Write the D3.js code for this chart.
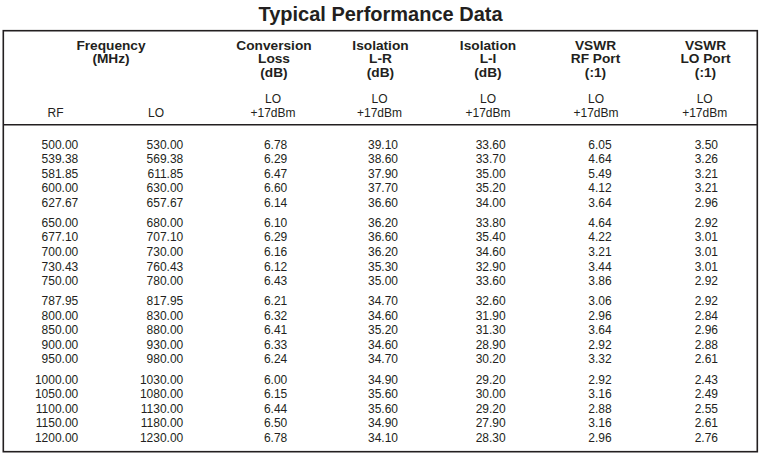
<!DOCTYPE html>
<html>
<head>
<meta charset="utf-8">
<script src="https://cdn.jsdelivr.net/npm/d3@7"></script>
<style>
  html, body { margin: 0; padding: 0; background: #fff; }
  svg { display: block; }
  text { font-family: "Liberation Sans", Arial, Helvetica, sans-serif; fill: #231f20; }
</style>
</head>
<body>
<svg id="chart" width="762" height="459"></svg>
<script>
// ---- data ----
const title = "Typical Performance Data";
const rfFreq   = [500.00, 539.38, 581.85, 600.00, 627.67, 650.00, 677.10, 700.00, 730.43, 750.00,
                  787.95, 800.00, 850.00, 900.00, 950.00, 1000.00, 1050.00, 1100.00, 1150.00, 1200.00];
const loFreq   = [530.00, 569.38, 611.85, 630.00, 657.67, 680.00, 707.10, 730.00, 760.43, 780.00,
                  817.95, 830.00, 880.00, 930.00, 980.00, 1030.00, 1080.00, 1130.00, 1180.00, 1230.00];
const convLoss = [6.78, 6.29, 6.47, 6.60, 6.14, 6.10, 6.29, 6.16, 6.12, 6.43,
                  6.21, 6.32, 6.41, 6.33, 6.24, 6.00, 6.15, 6.44, 6.50, 6.78];
const isoLR    = [39.10, 38.60, 37.90, 37.70, 36.60, 36.20, 36.60, 36.20, 35.30, 35.00,
                  34.70, 34.60, 35.20, 34.60, 34.70, 34.90, 35.60, 35.60, 34.90, 34.10];
const isoLI    = [33.60, 33.70, 35.00, 35.20, 34.00, 33.80, 35.40, 34.60, 32.90, 33.60,
                  32.60, 31.90, 31.30, 28.90, 30.20, 29.20, 30.00, 29.20, 27.90, 28.30];
const vswrRF   = [6.05, 4.64, 5.49, 4.12, 3.64, 4.64, 4.22, 3.21, 3.44, 3.86,
                  3.06, 2.96, 3.64, 2.92, 3.32, 2.92, 3.16, 2.88, 3.16, 2.96];
const vswrLO   = [3.50, 3.26, 3.21, 3.21, 2.96, 2.92, 3.01, 3.01, 3.01, 2.92,
                  2.92, 2.84, 2.96, 2.88, 2.61, 2.43, 2.49, 2.55, 2.61, 2.76];

const groupHeaders = [
  ["Frequency", "(MHz)"],
  ["Conversion", "Loss", "(dB)"],
  ["Isolation", "L-R", "(dB)"],
  ["Isolation", "L-I", "(dB)"],
  ["VSWR", "RF Port", "(:1)"],
  ["VSWR", "LO Port", "(:1)"]
];
const subHeaders = [
  ["RF"], ["LO"],
  ["LO", "+17dBm"], ["LO", "+17dBm"], ["LO", "+17dBm"], ["LO", "+17dBm"], ["LO", "+17dBm"]
];
const columns = [rfFreq, loFreq, convLoss, isoLR, isoLI, vswrRF, vswrLO];

// ---- layout ----
const svg = d3.select("#chart");
const ink = "#231f20";
const box = { x0: 3.3, x1: 757.3, y0: 30.7, y1: 451.7, sep: 124.7 };

const headerX = [111, 274, 380.5, 488, 595.5, 705.5];
const subX    = [55.5, 156, 273, 379.5, 488, 596, 704.7];
const dataRightX = [78.3, 183.3, 287.3, 398, 505.7, 611.7, 718];

const rowPitch = 14.55, groupSize = 5, groupGap = 20.1 - 14.55;
const rowScale = d3.scaleLinear().domain([0, 1]).range([148.6, 148.6 + rowPitch]);
const yRow = i => rowScale(i) + Math.floor(i / groupSize) * groupGap;

// title
svg.append("text")
  .attr("x", 380.5).attr("y", 20.7)
  .attr("text-anchor", "middle")
  .style("font-size", "20px").style("font-weight", "bold")
  .text(title);

// box
svg.append("rect")
  .attr("x", box.x0).attr("y", box.y0)
  .attr("width", box.x1 - box.x0).attr("height", box.y1 - box.y0)
  .attr("fill", "none").attr("stroke", ink).attr("stroke-width", 1.6);
svg.append("line")
  .attr("x1", box.x0).attr("x2", box.x1)
  .attr("y1", box.sep).attr("y2", box.sep)
  .attr("stroke", ink).attr("stroke-width", 1.6);

// group headers
const hdrLine = d3.scaleLinear().domain([0, 1]).range([49.7, 63.1]);
groupHeaders.forEach((lines, c) => {
  svg.append("g").selectAll("text").data(lines).join("text")
    .attr("x", headerX[c])
    .attr("y", (d, i) => hdrLine(i))
    .attr("text-anchor", "middle")
    .style("font-size", "13.7px").style("font-weight", "bold")
    .text(d => d);
});

// sub headers (aligned to bottom line)
const subLine = d3.scaleLinear().domain([0, 1]).range([103.2, 117.3]);
subHeaders.forEach((lines, c) => {
  const off = 2 - lines.length;
  svg.append("g").selectAll("text").data(lines).join("text")
    .attr("x", subX[c])
    .attr("y", (d, i) => subLine(i + off))
    .attr("text-anchor", "middle")
    .style("font-size", "12px")
    .text(d => d);
});

// data cells
columns.forEach((vals, c) => {
  svg.append("g").selectAll("text").data(vals).join("text")
    .attr("x", dataRightX[c])
    .attr("y", (d, i) => yRow(i))
    .attr("text-anchor", "end")
    .style("font-size", "12px")
    .text(d => d3.format(".2f")(d));
});
</script>
</body>
</html>
